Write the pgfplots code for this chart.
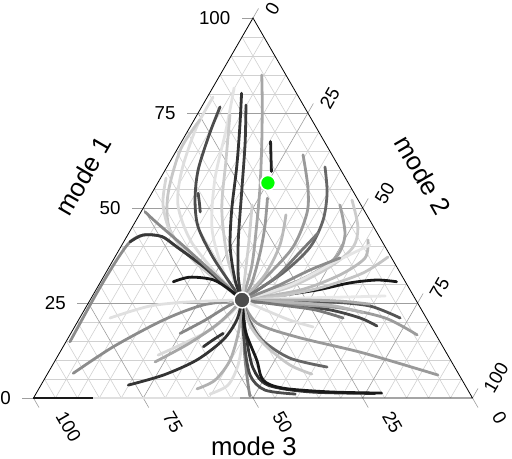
\documentclass[border=0pt]{standalone}
\usepackage{fontspec}
\setmainfont{Liberation Sans}
\usepackage{pgfplots}
\pgfplotsset{compat=1.18}
\usetikzlibrary{calc}
\pgfplotsset{
  tr/.style={no marks, smooth, line width=2.8bp, line cap=round, line join=round},
}
\tikzset{
  gmin/.style={draw=black!18, line width=0.6bp},
  gmaj/.style={draw=black!38, line width=0.6bp},
  tl/.style={font=\fontsize{18.8}{20}\selectfont, inner sep=0pt},
  tt/.style={font=\fontsize{25.8}{30}\selectfont, inner sep=0pt},
}
% ternary data: columns m1 (mode 1) and m2 (mode 2); mode 3 = 100 - m1 - m2
\newcommand{\traj}[2]{\addplot[tr, draw=black!#1] table[row sep=\\, x expr={\thisrow{m2}+0.5*\thisrow{m1}}, y=m1] {m1 m2\\ #2};}
\begin{document}
\begin{tikzpicture}
\begin{axis}[scale only axis, width=439bp, height=380bp,
  xmin=0, xmax=100, ymin=0, ymax=100, axis lines=none, ticks=none, clip=false]
\path (axis cs:-7.63,-16.05) rectangle (axis cs:109.0,104.74);
% minor grid
\pgfplotsinvokeforeach{5,10,15,20,30,35,40,45,55,60,65,70,80,85,90,95}{
  \draw[gmin] ($(axis cs:0,0)!#1/100!(axis cs:50,100)$) -- ($(axis cs:100,0)!#1/100!(axis cs:50,100)$);
  \draw[gmin] ($(axis cs:0,0)!#1/100!(axis cs:100,0)$) -- ($(axis cs:50,100)!#1/100!(axis cs:100,0)$);
  \draw[gmin] ($(axis cs:100,0)!#1/100!(axis cs:0,0)$) -- ($(axis cs:50,100)!#1/100!(axis cs:0,0)$);
}
% major grid with ticks
\pgfplotsinvokeforeach{25,50,75}{
  \draw[gmaj, shorten <=-11bp] ($(axis cs:0,0)!#1/100!(axis cs:50,100)$) -- ($(axis cs:100,0)!#1/100!(axis cs:50,100)$);
  \draw[gmaj, shorten >=-11bp] ($(axis cs:0,0)!#1/100!(axis cs:100,0)$) -- ($(axis cs:50,100)!#1/100!(axis cs:100,0)$);
  \draw[gmaj, shorten <=-11bp] ($(axis cs:100,0)!#1/100!(axis cs:0,0)$) -- ($(axis cs:50,100)!#1/100!(axis cs:0,0)$);
}
\draw[gmaj] (axis cs:0,0) -- ++(-11bp,0);
\draw[gmaj] (axis cs:50,100) -- ++(-11bp,0);
\draw[gmaj] (axis cs:50,100) -- ++(5.5bp,9.53bp);
\draw[gmaj] (axis cs:100,0) -- ++(5.5bp,9.53bp);
\draw[gmaj] (axis cs:0,0) -- ++(5.5bp,-9.53bp);
\draw[gmaj] (axis cs:100,0) -- ++(5.5bp,-9.53bp);
\draw[black, line width=0.8bp] (axis cs:0,0) -- (axis cs:100,0) -- (axis cs:50,100) -- cycle;
% trajectories
\traj{90}{30.6 67.4\\ 31.05 62.7\\ 30.3 56.95\\ 28.4 50.3\\ 26.6 40.6\\ 25.8 34.6\\}
\traj{13}{79.2 1.3\\ 71.3 1.5\\ 60.0 3.8\\ 50.8 7.5\\ 41.6 14.9\\ 33.2 24.7\\ 25.8 34.6\\}
\traj{22}{73.2 1.3\\ 65.3 0.8\\ 53.4 3.9\\ 44.2 9.0\\ 35.8 18.9\\ 25.8 34.6\\}
\traj{16}{57.9 1.25\\ 50.8 4.1\\ 42.9 10.1\\ 35.0 20.4\\ 25.8 34.6\\}
\traj{45}{14.8 0.9\\ 27.6 0.6\\ 36.3 0.8\\ 41.1 1.45\\ 42.9 3.55\\ 42.5 7.95\\ 39.8 12.7\\ 34.6 21.4\\ 28.4 30.6\\ 25.8 34.6\\}
\traj{78}{41.1 1.45\\ 42.9 3.55\\ 42.5 7.95\\ 39.8 12.7\\ 34.6 21.4\\ 28.4 30.6\\ 25.8 34.6\\}
\traj{46}{49.0 0.9\\ 46.1 5.05\\ 40.8 13.0\\ 33.7 23.35\\ 25.8 34.6\\}
\traj{11}{81.6 4.9\\ 70.5 8.6\\ 57.4 12.6\\ 44.2 18.6\\ 32.4 27.4\\ 25.8 34.6\\}
\traj{70}{76.6 4.2\\ 69.7 5.3\\ 60.0 7.5\\ 52.1 10.75\\ 45.0 15.0\\ 37.1 22.3\\ 29.2 30.8\\ 25.8 34.6\\}
\traj{20}{74.5 7.5\\ 62.6 12.55\\ 49.5 18.15\\ 36.3 26.15\\ 25.8 34.6\\}
\traj{35}{85.0 9.5\\ 77.6 13.3\\ 67.0 18.5\\ 55.6 23.8\\ 45.1 28.25\\ 34.6 32.4\\ 25.8 34.6\\}
\traj{80}{80.2 7.3\\ 71.4 11.3\\ 60.9 15.85\\ 49.5 20.4\\ 39.8 24.9\\ 31.1 30.35\\ 25.8 34.6\\}
\traj{77}{77.1 9.85\\ 67.0 14.7\\ 53.9 20.45\\ 41.6 25.85\\ 31.9 30.7\\ 25.8 34.6\\}
\traj{70}{53.9 10.55\\ 51.3 12.15\\ 48.96 13.5\\}
\traj{18}{50.8 24.4\\ 41.6 28.3\\ 32.4 32.0\\ 25.8 34.6\\}
\traj{40}{52.6 27.0\\ 45.1 30.15\\ 38.1 32.55\\ 30.2 34.6\\ 25.8 34.6\\}
\traj{87}{67.5 20.25\\ 63.4 22.4\\ 59.6 24.4\\}
\traj{40}{64.0 29.4\\ 55.5 34.75\\ 48.7 37.95\\ 39.7 39.25\\ 31.05 36.8\\ 25.8 34.6\\}
\traj{27}{48.2 33.4\\ 40.3 36.0\\ 32.4 36.5\\ 25.8 34.6\\}
\traj{60}{60.8 36.0\\ 53.95 39.9\\ 46.85 42.55\\ 39.7 43.15\\ 32.9 40.35\\ 25.8 34.6\\}
\traj{20}{52.1 46.5\\ 45.0 51.4\\ 39.7 52.95\\ 34.5 50.25\\ 29.2 43.8\\ 25.8 34.6\\}
\traj{37}{50.8 44.4\\ 42.9 49.5\\ 36.85 50.3\\ 31.05 45.2\\ 25.8 34.6\\}
\traj{53}{43.4 43.1\\ 38.4 41.5\\ 31.6 39.2\\ 25.8 34.6\\}
\traj{27}{41.6 55.4\\ 36.85 57.1\\ 32.4 53.6\\ 28.4 46.5\\ 25.8 34.6\\}
\traj{10}{40.3 56.5\\ 35.8 50.8\\ 29.7 43.55\\ 25.8 34.6\\}
\traj{23}{37.1 62.2\\ 32.9 58.6\\ 29.2 51.35\\ 26.85 42.75\\ 25.8 34.6\\}
\traj{45}{36.85 51.4\\ 33.7 46.15\\ 29.2 40.4\\ 25.8 34.6\\}
\traj{9}{25.8 34.6\\ 26.3 47.55\\ 26.6 58.8\\ 26.85 66.7\\}
\traj{67}{25.8 34.6\\ 25.5 45.65\\ 25.3 54.85\\ 24.2 64.55\\ 21.05 73.0\\}
\traj{33}{25.8 34.6\\ 25.8 47.8\\ 25.5 57.05\\ 24.7 64.3\\}
\traj{73}{25.8 34.6\\ 24.5 46.15\\ 23.2 55.9\\ 21.05 63.9\\ 18.95 68.75\\}
\traj{39}{25.8 34.6\\ 24.7 46.05\\ 23.7 57.95\\ 21.05 69.6\\ 16.6 79.1\\}
\traj{29}{25.8 34.6\\ 25.0 48.2\\ 24.2 56.6\\ 22.4 63.9\\}
\traj{53}{25.8 34.6\\ 24.5 43.9\\ 23.2 52.5\\ 21.05 60.0\\}
\traj{13}{25.8 34.6\\ 23.2 41.1\\ 20.5 48.15\\ 18.7 54.35\\}
\traj{40}{25.8 34.6\\ 19.7 41.05\\ 16.05 52.0\\ 11.85 69.2\\ 6.05 89.1\\}
\traj{60}{25.8 34.6\\ 21.05 38.4\\ 15.3 44.4\\ 10.5 53.15\\ 8.15 62.8\\}
\traj{22}{25.8 34.6\\ 19.2 39.7\\ 13.95 45.75\\ 8.7 54.05\\ 6.3 60.25\\}
\traj{46}{25.8 34.6\\ 17.9 38.75\\ 10.0 43.2\\ 3.4 47.2\\ 0.5 49.05\\}
\traj{13}{25.8 34.6\\ 16.6 39.4\\ 8.7 42.25\\ 3.4 42.6\\ 1.05 39.7\\}
\traj{70}{25.8 34.6\\ 15.3 40.3\\ 6.05 46.3\\ 2.1 51.65\\ 1.05 59.1\\}
\traj{80}{25.8 34.6\\ 16.6 40.1\\ 7.9 46.05\\ 3.4 51.7\\ 1.6 62.2\\ 1.2 77.2\\}
\traj{90}{25.8 34.6\\ 17.9 39.25\\ 10.0 45.85\\ 4.7 49.95\\ 2.6 55.5\\ 1.6 66.7\\ 1.3 78.65\\}
\traj{31}{2.4 36.05\\ 4.7 39.0\\ 10.0 39.8\\ 17.9 37.85\\ 25.8 34.6\\}
\traj{15}{11.3 22.75\\ 13.95 26.45\\ 17.9 31.25\\ 22.6 33.9\\ 25.8 34.6\\}
\traj{35}{9.5 22.95\\ 14.5 28.4\\ 20.0 32.5\\ 25.8 34.6\\}
\traj{80}{3.4 19.9\\ 6.05 26.6\\ 10.0 32.2\\ 15.3 35.55\\ 20.5 36.05\\ 25.8 34.6\\}
\traj{47}{17.0 24.9\\ 20.5 28.85\\ 24.2 32.2\\ 25.8 34.6\\}
\traj{80}{13.5 31.95\\ 15.3 33.25\\ 17.0 34.7\\}
\traj{45}{6.5 5.8\\ 13.5 11.45\\ 20.5 19.3\\ 24.5 26.45\\ 25.8 34.6\\}
\traj{12}{21.05 6.9\\ 24.2 14.4\\ 25.3 23.0\\ 25.8 34.6\\}
\traj{90}{30.6 16.55\\ 31.8 19.75\\ 31.1 25.4\\ 28.4 30.6\\ 25.8 34.6\\}
\addplot[line width=2.8bp, draw=black!12, no marks] table[row sep=\\, x expr={\thisrow{m2}+0.5*\thisrow{m1}}, y=m1] {m1 m2\\ 0 13.5\\ 0 47\\};
\addplot[line width=2.8bp, draw=black!90, no marks] table[row sep=\\, x expr={\thisrow{m2}+0.5*\thisrow{m1}}, y=m1] {m1 m2\\ 0 0\\ 0 13.5\\};
% points
\addplot[only marks, mark=*, mark size=8bp, mark options={fill=black!70, draw=white, line width=1.5bp}] table[row sep=\\, x expr={\thisrow{m2}+0.5*\thisrow{m1}}, y=m1] {m1 m2\\ 25.8 34.6\\};
\addplot[only marks, mark=*, mark size=7.5bp, mark options={fill=green, draw=white, line width=1.5bp}] table[row sep=\\, x expr={\thisrow{m2}+0.5*\thisrow{m1}}, y=m1] {m1 m2\\ 56.6 25.1\\};
% tick labels
\node[tl, anchor=east] at ([xshift=-22.5bp]axis cs:0,0) {0};
\node[tl, anchor=east] at ([xshift=-22.5bp]axis cs:12.5,25) {25};
\node[tl, anchor=east] at ([xshift=-22.5bp]axis cs:25,50) {50};
\node[tl, anchor=east] at ([xshift=-22.5bp]axis cs:37.5,75) {75};
\node[tl, anchor=east] at ([xshift=-22.5bp]axis cs:50,100) {100};
\node[tl, rotate=60] at ([shift={(19.5bp,9.5bp)}]axis cs:50,100) {0};
\node[tl, rotate=60] at ([shift={(22bp,14.8bp)}]axis cs:62.5,75) {25};
\node[tl, rotate=60] at ([shift={(22bp,14.8bp)}]axis cs:75,50) {50};
\node[tl, rotate=60] at ([shift={(22bp,14.8bp)}]axis cs:87.5,25) {75};
\node[tl, rotate=60] at ([shift={(23.5bp,20bp)}]axis cs:100,0) {100};
\node[tl, rotate=-60] at ([shift={(35bp,-29bp)}]axis cs:0,0) {100};
\node[tl, rotate=-60] at ([shift={(29.7bp,-24.2bp)}]axis cs:25,0) {75};
\node[tl, rotate=-60] at ([shift={(29.7bp,-24.2bp)}]axis cs:50,0) {50};
\node[tl, rotate=-60] at ([shift={(29.7bp,-24.2bp)}]axis cs:75,0) {25};
\node[tl, rotate=-60] at ([shift={(27bp,-19.7bp)}]axis cs:100,0) {0};
% axis titles
\node[tt, rotate=60] at (axis cs:11.28,58.4) {mode 1};
\node[tt, rotate=-60] at (axis cs:88.7,58.7) {mode 2};
\node[tt, anchor=base] at (axis cs:50.2,-15.0) {mode 3};
\end{axis}
\end{tikzpicture}
\end{document}
